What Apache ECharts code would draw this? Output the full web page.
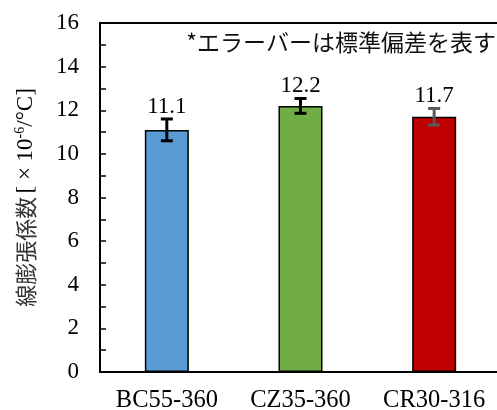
<!DOCTYPE html>
<html>
<head>
<meta charset="utf-8">
<script src="https://cdn.jsdelivr.net/npm/echarts@6/dist/echarts.min.js"></script>
<style>
  html, body { margin: 0; padding: 0; background: #fff; }
  #chart { width: 497px; height: 410px; }
</style>
</head>
<body>
<div id="chart"></div>
<script>
// Specimens and their mean thermal expansion coefficient (×10^-6/°C)
const categories = ['BC55-360', 'CZ35-360', 'CR30-316'];
const means = [11.1, 12.2, 11.7];
// Standard deviation of each specimen
const stdDevs = [0.5, 0.34, 0.38];
const barColors = ['#5B9BD5', '#70AD47', '#C00000'];
const errColors = ['#000000', '#000000', '#595959'];
const yTicks = [0, 2, 4, 6, 8, 10, 12, 14, 16];

const serif = '"Liberation Serif", "Times New Roman", serif';
const cjk = '"Noto Sans CJK JP", sans-serif';

const chart = echarts.init(document.getElementById('chart'), null, { renderer: 'canvas' });

chart.setOption({
  animation: false,
  grid: {
    left: 100, top: 23, width: 401, bottom: 38,
    outerBoundsMode: 'none',
    containLabel: false,
    show: true, borderColor: '#000', borderWidth: 2, backgroundColor: 'transparent'
  },
  xAxis: {
    type: 'category',
    data: categories,
    axisLine: { lineStyle: { color: '#000', width: 2 } },
    axisTick: { show: false },
    axisLabel: {
      color: '#000', fontFamily: serif, fontSize: 24.5, margin: 16,
      interval: 0, hideOverlap: false
    }
  },
  yAxis: {
    type: 'value',
    min: yTicks[0], max: yTicks[yTicks.length - 1], interval: 2,
    axisLine: { show: true, lineStyle: { color: '#000', width: 2 } },
    axisTick: { show: true, inside: true, length: 6, lineStyle: { color: '#000', width: 1.5 } },
    minorTick: { show: true, splitNumber: 2, length: 6, lineStyle: { color: '#000', width: 1.5 } },
    splitLine: { show: false },
    axisLabel: { color: '#000', fontFamily: serif, fontSize: 23, margin: 21 },
    name: '{j|線膨張係数} {s|[ × 10}{sup|-6}{s|/°C]}',
    nameLocation: 'middle',
    nameRotate: 90,
    nameGap: 62,
    nameTextStyle: {
      rich: {
        j: { fontFamily: cjk, fontSize: 22, color: '#333' },
        s: { fontFamily: serif, fontSize: 23, color: '#000' },
        sup: { fontFamily: serif, fontSize: 14, color: '#000', padding: [0, 0, 11, 0] }
      }
    }
  },
  series: [
    {
      type: 'bar',
      barWidth: 44,
      data: means.map((v, i) => ({
        value: v,
        itemStyle: { color: barColors[i], borderColor: '#000', borderWidth: 1.5 }
      })),
      z: 2
    },
    {
      type: 'custom',
      z: 5,
      data: means.map((v, i) => [i, v - stdDevs[i], v + stdDevs[i], v]),
      renderItem: function (params, api) {
        const i = api.value(0);
        const lo = api.coord([i, api.value(1)]);
        const hi = api.coord([i, api.value(2)]);
        const half = 6;
        const col = errColors[params.dataIndex];
        const style = { stroke: col, lineWidth: 3 };
        return {
          type: 'group',
          children: [
            { type: 'line', shape: { x1: lo[0], y1: lo[1], x2: hi[0], y2: hi[1] }, style },
            { type: 'line', shape: { x1: lo[0] - half, y1: lo[1], x2: lo[0] + half, y2: lo[1] }, style },
            { type: 'line', shape: { x1: hi[0] - half, y1: hi[1], x2: hi[0] + half, y2: hi[1] }, style },
            {
              type: 'text',
              x: hi[0], y: hi[1] - 1,
              style: {
                text: String(api.value(3)),
                fill: '#000',
                font: '23px ' + serif,
                textAlign: 'center',
                textVerticalAlign: 'bottom'
              }
            }
          ]
        };
      }
    }
  ],
  graphic: [
    {
      type: 'text',
      right: 1,
      top: 31,
      style: {
        text: '*エラーバーは標準偏差を表す',
        fill: '#111',
        font: '23px ' + cjk
      }
    }
  ]
});
</script>
</body>
</html>
